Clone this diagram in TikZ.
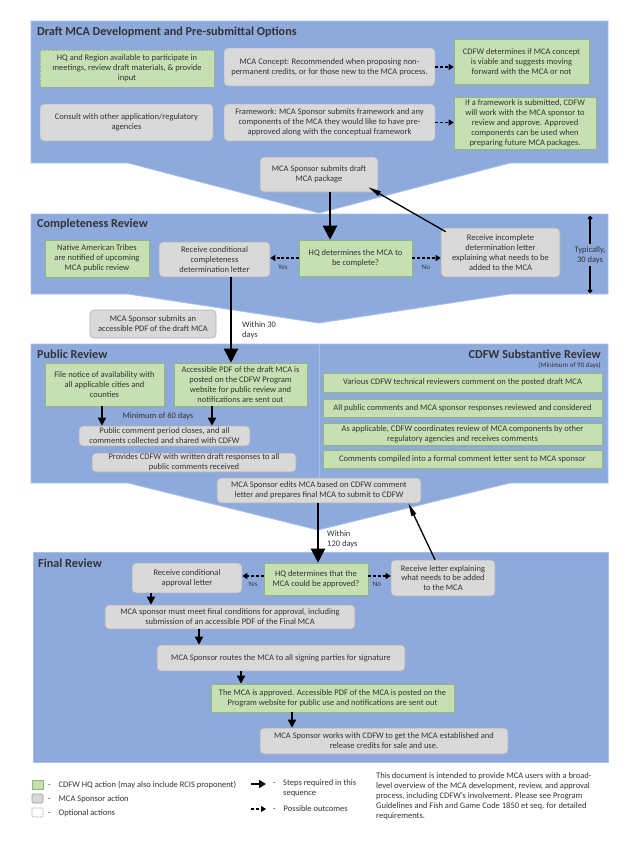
\documentclass[tikz,border=0pt]{standalone}
\usepackage{fontspec}
\setmainfont{Carlito}
\usetikzlibrary{arrows.meta,calc}
\definecolor{secblue}{HTML}{8EAADC}
\definecolor{secedge}{HTML}{A9BFE6}
\definecolor{gfill}{HTML}{C6E0B4}
\definecolor{gedge}{HTML}{92B776}
\definecolor{yfill}{HTML}{D9D9D9}
\definecolor{yedge}{HTML}{A9AFB8}
\definecolor{txt}{HTML}{333333}
\newcommand{\bxf}{\fontsize{8.5}{9.9}\selectfont}
\newcommand{\lgf}{\fontsize{8.5}{10}\selectfont}
\newcommand{\ttlf}{\fontsize{12.2}{14}\selectfont\bfseries}
\newcommand{\smf}{\fontsize{7}{8}\selectfont}
\newcommand{\bxnode}[7]{\node[#1,minimum width={(#5-#3)*1pt},minimum height={(#6-#4)*1pt}] (#2) at ({(#3+#5)/2},{(#4+#6)/2}) {#7};}
\begin{document}
\begin{tikzpicture}[x=1pt,y=-1pt,
  sec/.style={fill=secblue,draw=secedge,line width=0.8pt},
  base/.style={align=center,font=\bxf,text=txt,inner sep=0.5pt},
  gbox/.style={base,fill=gfill,draw=gedge,line width=0.6pt},
  gopt/.style={gbox,dash pattern=on 1.5pt off 1pt},
  ybox/.style={base,fill=yfill,draw=yedge,line width=0.6pt,rounded corners=4pt},
  yopt/.style={ybox,dash pattern=on 1.5pt off 1pt},
  title/.style={font=\ttlf,text=txt,inner sep=0pt},
  lbl/.style={font=\smf,text=txt,inner sep=0pt},
  plain/.style={font=\bxf,text=txt,inner sep=0pt},
  mainarrow/.style={line width=2.2pt,-{Triangle[length=14pt,width=14pt]}},
  steparrow/.style={line width=1.6pt,-{Triangle[length=8pt,width=8pt]}},
  outarrow/.style={line width=1.1pt,dash pattern=on 3pt off 1.8pt,-{Triangle[length=5pt,width=6pt]}},
  thinarrow/.style={line width=1.3pt,-{Triangle[length=13pt,width=5pt]}},
  spanline/.style={line width=1.2pt}
]
\useasboundingbox (0,0) rectangle (633,841);
\fill[white] (0,0) rectangle (633,841);
% sections
\draw[sec] (31,21) -- (608,21) -- (608,163) -- (510,163) -- (319,213) -- (128,163) -- (31,163) -- cycle;
\draw[sec] (31,214) -- (608,214) -- (608,294) -- (510,294) -- (319,323) -- (128,294) -- (31,294) -- cycle;
\draw[sec] (31,344) -- (608,344) -- (608,483) -- (510,483) -- (318,530) -- (128,483) -- (31,483) -- cycle;
\draw[secedge,line width=0.8pt] (319,344) -- (319,483);
\draw[sec] (33,552) rectangle (608,762);
% titles
\node[title,anchor=west] (t1) at (37,32) {Draft MCA Development and Pre-submittal Options};
\node[title,anchor=west] (t2) at (37,224) {Completeness Review};
\node[title,anchor=west] (t3) at (37,354) {Public Review};
\node[title,anchor=east] (t3b) at (601,354) {CDFW Substantive Review};
\node[lbl,anchor=east] (t3c) at (601,365) {(Minimum of 90 days)};
\node[title,anchor=west] (t4) at (38,563) {Final Review};
% section 1
\bxnode{gopt}{hq}{40}{50}{214}{87}{HQ and Region available to participate in\\ meetings, review draft materials, \& provide\\ input}
\bxnode{yopt}{concept}{224}{48}{435}{86}{MCA Concept: Recommended when proposing non-\\ permanent credits, or for those new to the MCA process.}
\bxnode{gbox}{viable}{454}{39}{589}{84}{CDFW determines if MCA concept\\ is viable and suggests moving\\ forward with the MCA or not}
\bxnode{yopt}{consult}{40}{104}{213}{141}{Consult with other application/regulatory\\ agencies}
\bxnode{yopt}{framework}{224}{104}{435}{141}{Framework: MCA Sponsor submits framework and any\\ components of the MCA they would like to have pre-\\ approved along with the conceptual framework}
\bxnode{gbox}{fwork}{454}{97}{596}{149}{If a framework is submitted, CDFW\\ will work with the MCA sponsor to\\ review and approve. Approved\\ components can be used when\\ preparing future MCA packages.}
\bxnode{ybox}{submit}{260}{157}{378}{192}{MCA Sponsor submits draft\\ MCA package}
\draw[outarrow] (concept.east) -- (concept.east -| viable.west);
\draw[outarrow] (framework.east) -- (framework.east -| fwork.west);
% section 2
\bxnode{gbox}{tribes}{45}{240}{149}{277}{Native American Tribes\\ are notified of upcoming\\ MCA public review}
\bxnode{ybox}{condc}{159}{242}{270}{277}{Receive conditional\\ completeness\\ determination letter}
\bxnode{gbox}{hqc}{299}{240}{412}{276}{HQ determines the MCA to\\ be complete?}
\bxnode{ybox}{incomp}{441}{228}{560}{277}{Receive incomplete\\ determination letter\\ explaining what needs to be\\ added to the MCA}
\coordinate (ax1) at (330,0);
\draw[mainarrow] (submit.south -| ax1) -- (hqc.north -| ax1);
\draw[thinarrow] ([shift={(5,4)}]incomp.north west) -- ([shift={(-10,-5)}]submit.south east);
\draw[outarrow] (hqc.west) -- (hqc.west -| condc.east);
\draw[outarrow] (hqc.east) -- (hqc.east -| incomp.west);
\node[lbl] (yes1) at (283,267) {Yes};
\node[lbl] (no1) at (426,267) {No};
\node[plain,align=center] (typ) at (590,255) {Typically,\\ 30 days};
\coordinate (typtop) at (590,216);
\coordinate (typbot) at (590,293);
\draw[spanline,{Circle[length=4.5pt]}-] (typtop) -- ([yshift=2pt]typ.north);
\draw[spanline,-{Circle[length=4.5pt]}] ([yshift=-2pt]typ.south) -- (typbot);
% between 2 and 3
\bxnode{ybox}{pdf}{90}{310}{216}{338}{MCA Sponsor submits an\\ accessible PDF of the draft MCA}
\node[plain,align=left,anchor=west] (w30) at (242,330) {Within 30\\ days};
% section 3
\bxnode{gbox}{notice}{45}{363}{164}{406}{File notice of availability with\\ all applicable cities and\\ counties}
\bxnode{gbox}{acc}{174}{363}{307}{406}{Accessible PDF of the draft MCA is\\ posted on the CDFW Program\\ website for public review and\\ notifications are sent out}
\coordinate (ax2) at (231,0);
\draw[mainarrow] (condc.south -| ax2) -- (acc.north -| ax2);
\node[plain] (min60) at (158,416) {Minimum of 60 days};
\bxnode{ybox}{closes}{79}{426}{250}{446}{Public comment period closes, and all\\ comments collected and shared with CDFW}
\bxnode{ybox}{provides}{92}{453}{296}{472}{Provides CDFW with written draft responses to all\\ public comments received}
\coordinate (ax3) at (102,0);
\coordinate (ax4) at (212,0);
\draw[steparrow] (notice.south -| ax3) -- (closes.north -| ax3);
\draw[steparrow] (acc.south -| ax4) -- (closes.north -| ax4);
\bxnode{gbox}{r1}{323}{373}{602}{392}{Various CDFW technical reviewers comment on the posted draft MCA}
\bxnode{gbox}{r2}{323}{399}{602}{417}{All public comments and MCA sponsor responses reviewed and considered}
\bxnode{gbox}{r3}{323}{423}{602}{445}{As applicable, CDFW coordinates review of MCA components by other\\ regulatory agencies and receives comments}
\bxnode{gbox}{r4}{323}{450}{602}{468}{Comments compiled into a formal comment letter sent to MCA sponsor}
\bxnode{ybox}{edits}{217}{478}{421}{503}{MCA Sponsor edits MCA based on CDFW comment\\ letter and prepares final MCA to submit to CDFW}
% section 4
\node[plain,align=left,anchor=west] (w120) at (327,539) {Within\\ 120 days};
\bxnode{ybox}{condf}{132}{563}{242}{593}{Receive conditional\\ approval letter}
\bxnode{gbox}{hqf}{264}{563}{368}{595}{HQ determines that the\\ MCA could be approved?}
\bxnode{ybox}{letter}{391}{560}{495}{596}{Receive letter explaining\\ what needs to be added\\ to the MCA}
\coordinate (ax5) at (318,0);
\coordinate (ay1) at (0,576);
\draw[mainarrow] (edits.south -| ax5) -- (hqf.north -| ax5);
\draw[thinarrow] ([shift={(-8,0)}]letter.north) -- ([shift={(-13,0)}]edits.south east);
\draw[outarrow] (hqf.west |- ay1) -- (condf.east |- ay1);
\draw[outarrow] (hqf.east |- ay1) -- (letter.west |- ay1);
\node[lbl] (yes2) at (253,584) {Yes};
\node[lbl] (no2) at (377,584) {No};
\bxnode{ybox}{final}{105}{605}{355}{629}{MCA sponsor must meet final conditions for approval, including\\ submission of an accessible PDF of the Final MCA}
\bxnode{ybox}{routes}{157}{645}{405}{671}{MCA Sponsor routes the MCA to all signing parties for signature}
\bxnode{gbox}{approved}{211}{684}{454}{712}{The MCA is approved. Accessible PDF of the MCA is posted on the\\ Program website for public use and notifications are sent out}
\bxnode{ybox}{works}{260}{728}{508}{754}{MCA Sponsor works with CDFW to get the MCA established and\\ release credits for sale and use.}
\coordinate (ax6) at (151,0);
\coordinate (ax7) at (199,0);
\coordinate (ax8) at (241,0);
\coordinate (ax9) at (292,0);
\draw[steparrow] (condf.south -| ax6) -- (final.north -| ax6);
\draw[steparrow] (final.south -| ax7) -- (routes.north -| ax7);
\draw[steparrow] (routes.south -| ax8) -- (approved.north -| ax8);
\draw[steparrow] (approved.south -| ax9) -- (works.north -| ax9);
% legend
\bxnode{gbox}{lg}{32}{780}{43}{789}{}
\bxnode{ybox,rounded corners=1.2pt,draw=gray!80}{ly}{32}{794}{43}{803}{}
\bxnode{yopt,fill=white,rounded corners=1.2pt,draw=gray!80}{lo}{32}{808}{43}{817}{}
\node[plain,font=\lgf,anchor=west] (lgt) at (48,785) {-\hspace{6pt} CDFW HQ action (may also include RCIS proponent)};
\node[plain,font=\lgf,anchor=west] (lyt) at (48,799) {-\hspace{6pt} MCA Sponsor action};
\node[plain,font=\lgf,anchor=west] (lot) at (48,813) {-\hspace{6pt} Optional actions};
\coordinate (la1) at (251,784);
\coordinate (la2) at (266,784);
\coordinate (lb1) at (251,809);
\coordinate (lb2) at (266,809);
\draw[line width=1.6pt,-{Triangle[length=7pt,width=8pt]}] (la1) -- (la2);
\draw[outarrow] (lb1) -- (lb2);
\node[plain,font=\lgf,anchor=west] (lad) at (273,784) {-};
\node[plain,font=\lgf,anchor=north west,align=left] (lat) at (283,779) {Steps required in this\\ sequence};
\node[plain,font=\lgf,anchor=west] (lbt) at (273,809) {-\hspace{6pt} Possible outcomes};
\node[plain,font=\lgf,anchor=north west,align=left] (note) at (376,772) {This document is intended to provide MCA users with a broad-\\ level overview of the MCA development, review, and approval\\ process, including CDFW's involvement. Please see Program\\ Guidelines and Fish and Game Code 1850 et seq. for detailed\\ requirements.};
\end{tikzpicture}
\end{document}
